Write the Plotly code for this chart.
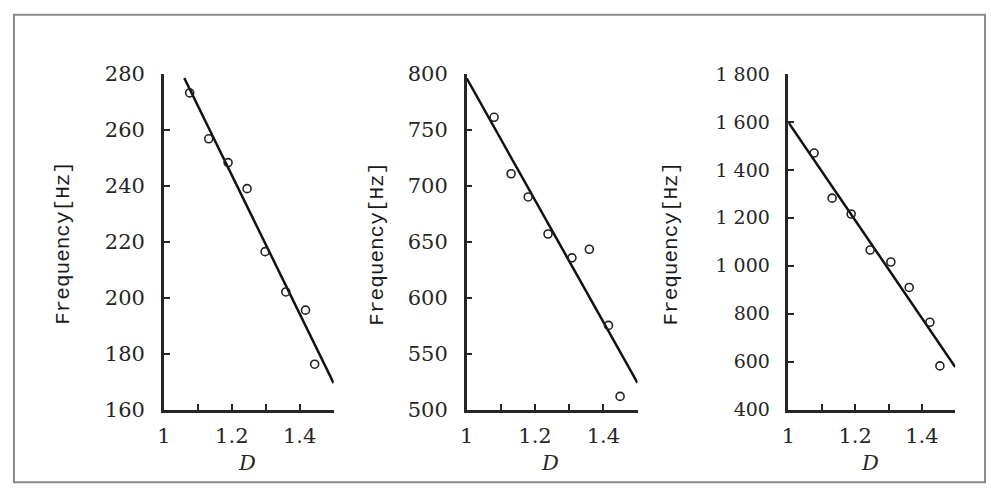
import plotly.graph_objects as go

W, H = 991, 497

# ---- data ----
d1 = [1.076, 1.132, 1.189, 1.245, 1.298, 1.359, 1.417, 1.444]
f1 = [273.2, 256.8, 248.3, 239.0, 216.5, 202.1, 195.6, 176.3]
fit1_x = [1.06, 1.50]
fit1_y = [278.5, 169.5]

d2 = [1.080, 1.130, 1.180, 1.238, 1.308, 1.359, 1.415, 1.449]
f2 = [761.2, 710.8, 690.1, 657.0, 635.7, 643.4, 575.4, 512.0]
fit2_x = [1.00, 1.50]
fit2_y = [796.0, 524.0]

d3 = [1.077, 1.131, 1.188, 1.245, 1.307, 1.362, 1.424, 1.454]
f3 = [1470, 1282, 1216, 1066, 1016, 910, 765, 583]
fit3_x = [1.00, 1.50]
fit3_y = [1598, 578]

x_tickvals = [1.0, 1.1, 1.2, 1.3, 1.4, 1.5]
x_ticktext = ["1", "", "1.2", "", "1.4", ""]

y1_ticks = [160, 180, 200, 220, 240, 260, 280]
y2_ticks = [500, 550, 600, 650, 700, 750, 800]
y3_ticks = [400, 600, 800, 1000, 1200, 1400, 1600, 1800]
y3_text = ["400", "600", "800", "1 000", "1 200", "1 400", "1 600", "1 800"]

y_title = "Frequency[Hz]"
x_title = "D"

panels = [
    (d1, f1, fit1_x, fit1_y, y1_ticks, [str(v) for v in y1_ticks], (158, 329)),
    (d2, f2, fit2_x, fit2_y, y2_ticks, [str(v) for v in y2_ticks], (463, 635)),
    (d3, f3, fit3_x, fit3_y, y3_ticks, y3_text, (787, 955)),
]

INK = "#262626"
SERIF = "DejaVu Serif"
fig = go.Figure()
layout = dict(
    width=W, height=H, margin=dict(l=0, r=0, t=0, b=0),
    paper_bgcolor="white", plot_bgcolor="white", showlegend=False,
    font=dict(family=SERIF, color=INK),
)
ytop, ybot = 65, 418
annotations = []
for i, (dx, fy, lx, ly, yt, ytt, (px0, px1)) in enumerate(panels):
    n = "" if i == 0 else str(i + 1)
    xa, ya = "x" + n, "y" + n
    fig.add_trace(go.Scatter(x=lx, y=ly, mode="lines", xaxis=xa, yaxis=ya,
                             line=dict(color="#111", width=2.5), cliponaxis=False))
    fig.add_trace(go.Scatter(x=dx, y=fy, mode="markers", xaxis=xa, yaxis=ya,
                             marker=dict(symbol="circle-open", size=8, color="#222",
                                         line=dict(width=1.6)), cliponaxis=False))
    layout["xaxis" + n] = dict(
        domain=[px0 / W, px1 / W], anchor=ya, range=[1.0, 1.5],
        tickvals=x_tickvals, ticktext=x_ticktext, ticks="inside", ticklen=6,
        tickwidth=2, tickcolor=INK, showline=True, linecolor=INK, linewidth=2.5,
        showgrid=False, zeroline=False, ticklabelstandoff=5,
        tickfont=dict(size=21, family=SERIF, color=INK),
    )
    layout["yaxis" + n] = dict(
        domain=[1 - ybot / H, 1 - ytop / H], anchor=xa, range=[yt[0], yt[-1]],
        tickvals=yt, ticktext=ytt, ticks="inside", ticklen=6, tickwidth=2,
        tickcolor=INK, showline=True, linecolor=INK, linewidth=2.5,
        showgrid=False, zeroline=False, ticklabelstandoff=12,
        tickfont=dict(size=21 if i < 2 else 19, family=SERIF, color=INK),
    )
    # y title
    tx = [57, 373, 669][i]
    annotations.append(dict(text=y_title, xref="paper", yref="paper",
                            x=tx / W, y=1 - 243 / H, xanchor="center", yanchor="middle",
                            textangle=-90, showarrow=False,
                            font=dict(family="Liberation Mono", size=21, color="#1a1a1a")))
    annotations.append(dict(text="<i>" + x_title + "</i>", xref="paper", yref="paper",
                            x=((px0 + px1) / 2 - 2) / W, y=1 - 474 / H,
                            xanchor="center", yanchor="middle", showarrow=False,
                            font=dict(family=SERIF, size=21, color=INK)))

layout["annotations"] = annotations
layout["shapes"] = [dict(type="rect", xref="paper", yref="paper",
                         x0=7 / W, x1=985 / W, y0=1 - 494 / H, y1=1 - 3 / H,
                         line=dict(color="#8a8a8a", width=2))]
fig.update_layout(**layout)
fig.write_html("out.html")
